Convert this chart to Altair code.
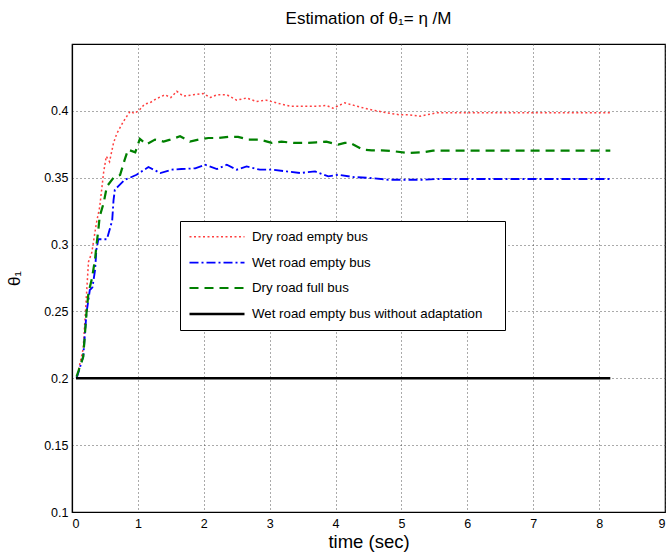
import altair as alt
import pandas as pd

series_names = [
    "Dry road empty bus",
    "Wet road empty bus",
    "Dry road full bus",
    "Wet road empty bus without adaptation",
]
series_colors = ["#ff4040", "#0000ff", "#008000", "#000000"]
series_dash = [[2, 2.5], [9, 3, 2, 3], [9, 6], [1, 0]]
series_width = [1.5, 2.6, 2.6, 2.6]

dry_empty_t = [0.07, 0.17, 0.25, 0.30, 0.37, 0.42, 0.48, 0.52, 0.57, 0.63, 0.68, 0.78, 0.88, 0.95,
               1.03, 1.10, 1.18, 1.28, 1.41, 1.50, 1.59, 1.69, 1.84, 1.99, 2.10, 2.20, 2.35, 2.50,
               2.65, 2.80, 2.95, 3.10, 3.31, 3.51, 3.71, 3.86, 3.96, 4.14, 4.32, 4.52, 4.78, 4.98,
               5.13, 5.28, 5.53, 8.17]
dry_empty_v = [0.200, 0.222, 0.287, 0.294, 0.316, 0.328, 0.354, 0.366, 0.362, 0.376, 0.383, 0.392,
               0.3996, 0.398, 0.401, 0.405, 0.406, 0.409, 0.412, 0.410, 0.4146, 0.411, 0.412, 0.413,
               0.410, 0.412, 0.412, 0.408, 0.4096, 0.407, 0.408, 0.406, 0.4035, 0.4035, 0.4035,
               0.404, 0.402, 0.406, 0.4035, 0.401, 0.3985, 0.397, 0.397, 0.396, 0.3985, 0.3985]

wet_empty_t = [0.07, 0.17, 0.22, 0.25, 0.27, 0.31, 0.35, 0.37, 0.40, 0.53, 0.61, 0.63, 0.65, 0.70,
               0.80, 0.88, 0.98, 1.16, 1.34, 1.51, 1.66, 1.87, 2.02, 2.20, 2.35, 2.50, 2.65, 2.85,
               3.05, 3.26, 3.46, 3.69, 3.89, 4.04, 4.27, 4.52, 4.80, 5.08, 5.33, 5.53, 8.17]
wet_empty_v = [0.200, 0.216, 0.249, 0.259, 0.266, 0.268, 0.281, 0.296, 0.304, 0.304, 0.318, 0.333,
               0.341, 0.3435, 0.3485, 0.350, 0.3522, 0.358, 0.3535, 0.356, 0.3565, 0.357, 0.3597,
               0.3565, 0.3597, 0.356, 0.3585, 0.356, 0.356, 0.3547, 0.3535, 0.3547, 0.351, 0.3523,
               0.3505, 0.3498, 0.3485, 0.3485, 0.3485, 0.349, 0.349]

dry_full_t = [0.07, 0.17, 0.22, 0.25, 0.30, 0.35, 0.37, 0.40, 0.42, 0.48, 0.53, 0.63, 0.73, 0.80,
              0.85, 0.96, 1.03, 1.13, 1.26, 1.39, 1.49, 1.64, 1.79, 1.92, 2.07, 2.22, 2.37, 2.52,
              2.68, 2.85, 3.03, 3.18, 3.36, 3.54, 3.71, 3.86, 4.04, 4.14, 4.22, 4.42, 4.55, 4.70,
              4.90, 5.10, 5.33, 5.48, 8.17]
dry_full_v = [0.2013, 0.216, 0.249, 0.264, 0.274, 0.289, 0.299, 0.311, 0.321, 0.331, 0.3435, 0.350,
              0.352, 0.3635, 0.371, 0.369, 0.379, 0.375, 0.3785, 0.377, 0.3785, 0.381, 0.377,
              0.3785, 0.3797, 0.3797, 0.3806, 0.3806, 0.3785, 0.3785, 0.376, 0.377, 0.376, 0.376,
              0.3765, 0.377, 0.3747, 0.376, 0.376, 0.371, 0.3705, 0.3705, 0.3697, 0.3685, 0.369,
              0.3702, 0.3702]

no_adapt_t = [0.06, 8.17]
no_adapt_v = [0.2, 0.2]

x_ticks = [0, 1, 2, 3, 4, 5, 6, 7, 8, 9]
y_ticks = [0.1, 0.15, 0.2, 0.25, 0.3, 0.35, 0.4]

frames = []
for name, ts, vs in [
    (series_names[0], dry_empty_t, dry_empty_v),
    (series_names[1], wet_empty_t, wet_empty_v),
    (series_names[2], dry_full_t, dry_full_v),
    (series_names[3], no_adapt_t, no_adapt_v),
]:
    frames.append(pd.DataFrame({"t": ts, "v": vs, "series": name}))
df = pd.concat(frames, ignore_index=True)

FONT = "Liberation Sans"

legend_opts = dict(
    title="\u2003", titleOrient="right", titlePadding=14, titleFontSize=13,
    orient="none", legendX=108, legendY=177,
    symbolType="M-5,0H5", symbolSize=121, symbolOffset=21,
    symbolStrokeWidth=2.6, labelFontSize=13.3, labelFont=FONT, labelColor="#000",
    rowPadding=12, padding=9, labelOffset=28,
    strokeColor="#000", fillColor="#fff", labelLimit=400,
)

chart = alt.Chart(df).mark_line(clip=True).encode(
    x=alt.X("t:Q", scale=alt.Scale(domain=[0, 9], nice=False),
            axis=alt.Axis(values=x_ticks, format="d", title="time (sec)",
                          titleFontSize=18.5, titleFontWeight="normal", titlePadding=3,
                          labelFontSize=12.5, labelPadding=5)),
    y=alt.Y("v:Q", scale=alt.Scale(domain=[0.1, 0.45], nice=False, zero=False),
            axis=alt.Axis(values=y_ticks, format=".2~f", title="θ₁",
                          titleFontSize=17, titleFontWeight="normal", titlePadding=20,
                          labelFontSize=12.5, labelPadding=4)),
    color=alt.Color("series:N", scale=alt.Scale(domain=series_names, range=series_colors),
                    legend=alt.Legend(**legend_opts)),
    strokeDash=alt.StrokeDash("series:N", scale=alt.Scale(domain=series_names, range=series_dash),
                              legend=alt.Legend(**legend_opts)),
    strokeWidth=alt.StrokeWidth("series:N", scale=alt.Scale(domain=series_names, range=series_width),
                                legend=None),
    detail="series:N",
).properties(
    width=593,
    height=468,
    title=alt.TitleParams("Estimation of θ₁= η /M", fontSize=17, fontWeight="normal",
                          font=FONT, color="#000", offset=16, anchor="middle"),
    padding={"left": 72, "top": 44, "right": 4, "bottom": 42},
    autosize=alt.AutoSizeParams(type="none"),
).configure_view(
    stroke="#000", strokeWidth=1.2
).configure_axis(
    labelFont=FONT, titleFont=FONT, labelColor="#000", titleColor="#000",
    grid=True, gridDash=[1, 3], gridColor="#444", gridWidth=1, gridOpacity=0.9,
    tickSize=0, domainColor="#000", domainWidth=1.2,
)

chart.save("out.html", embed_options={"renderer": "svg", "actions": False})
